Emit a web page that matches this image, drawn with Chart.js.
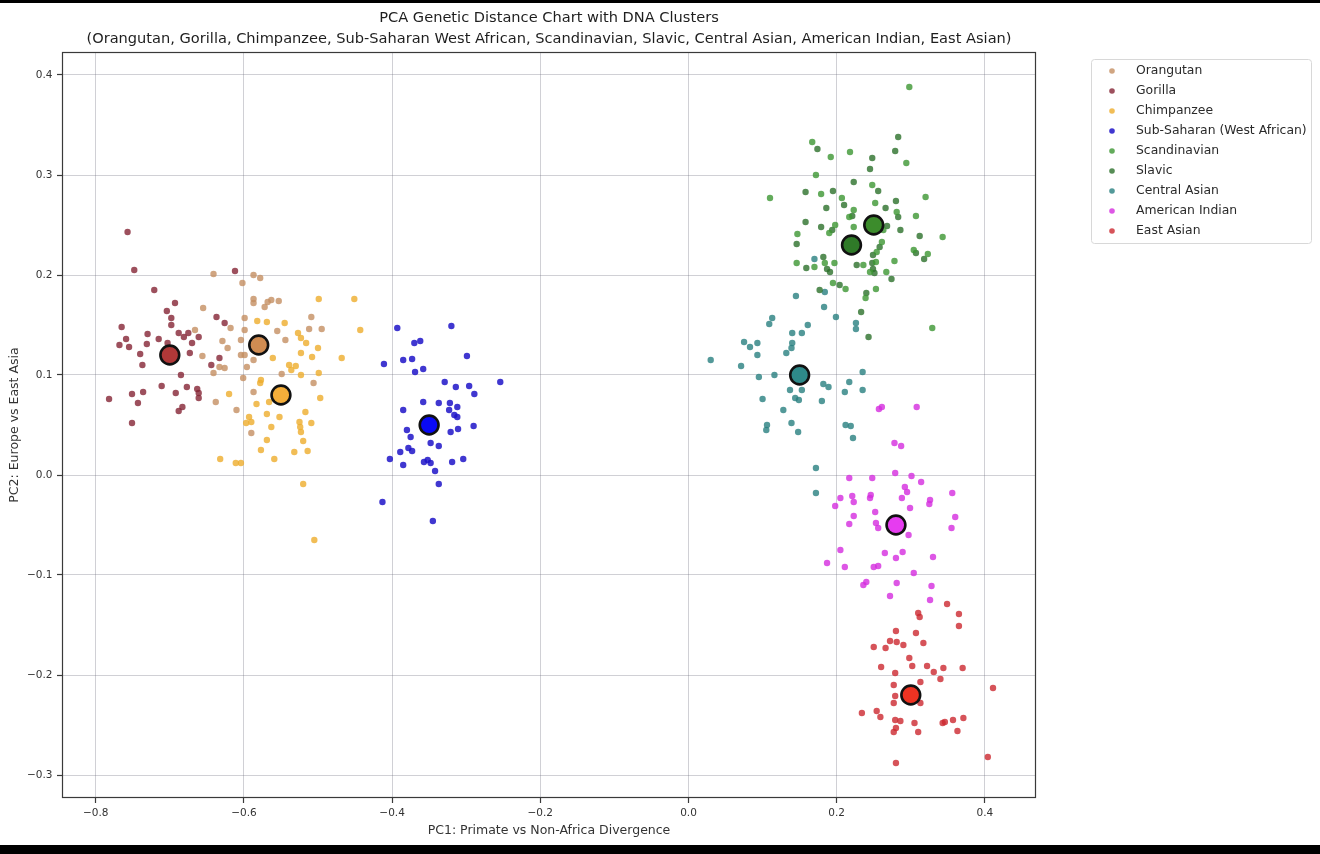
<!DOCTYPE html>
<html>
<head>
<meta charset="utf-8">
<script src="https://cdn.jsdelivr.net/npm/chart.js@4.4.0/dist/chart.umd.min.js"></script>
<style>
html,body{margin:0;padding:0;background:#fff;overflow:hidden}
#wrap{position:relative;width:1320px;height:854px}
canvas{display:block}
.bar{position:absolute;left:0;width:1320px;background:#000}
</style>
</head>
<body>
<div id="wrap">
<canvas id="c" width="1320" height="854"></canvas>
<div class="bar" style="top:0;height:3px"></div>
<div class="bar" style="top:845px;height:9px"></div>
</div>
<script>
// ---------- data ----------
const seriesNames = ['Orangutan','Gorilla','Chimpanzee','Sub-Saharan (West African)','Scandinavian','Slavic','Central Asian','American Indian','East Asian'];

const orangutan = [[-0.641,0.201],[-0.587,0.200],[-0.578,0.197],[-0.602,0.192],[-0.587,0.176],[-0.587,0.172],[-0.572,0.168],[-0.568,0.173],[-0.563,0.175],[-0.553,0.174],[-0.655,0.167],[-0.599,0.157],[-0.618,0.147],[-0.599,0.145],[-0.666,0.145],[-0.629,0.134],[-0.604,0.135],[-0.622,0.127],[-0.656,0.119],[-0.604,0.120],[-0.599,0.120],[-0.633,0.108],[-0.626,0.107],[-0.641,0.102],[-0.596,0.108],[-0.587,0.115],[-0.601,0.097],[-0.638,0.073],[-0.610,0.065],[-0.590,0.042],[-0.587,0.083],[-0.509,0.158],[-0.512,0.146],[-0.495,0.146],[-0.549,0.101],[-0.506,0.092],[-0.555,0.144],[-0.544,0.135]];

const gorilla = [[-0.757,0.243],[-0.748,0.205],[-0.721,0.185],[-0.693,0.172],[-0.704,0.164],[-0.698,0.157],[-0.698,0.150],[-0.765,0.148],[-0.730,0.141],[-0.715,0.136],[-0.688,0.142],[-0.675,0.142],[-0.681,0.138],[-0.661,0.138],[-0.670,0.132],[-0.759,0.136],[-0.768,0.130],[-0.755,0.128],[-0.731,0.131],[-0.703,0.132],[-0.740,0.121],[-0.673,0.122],[-0.737,0.110],[-0.685,0.100],[-0.637,0.158],[-0.626,0.152],[-0.633,0.117],[-0.644,0.110],[-0.711,0.089],[-0.692,0.082],[-0.677,0.088],[-0.663,0.086],[-0.661,0.082],[-0.661,0.077],[-0.736,0.083],[-0.751,0.081],[-0.782,0.076],[-0.743,0.072],[-0.683,0.068],[-0.688,0.064],[-0.751,0.052],[-0.612,0.204]];

const chimpanzee = [[-0.499,0.176],[-0.451,0.176],[-0.443,0.145],[-0.468,0.117],[-0.582,0.154],[-0.569,0.153],[-0.545,0.152],[-0.527,0.142],[-0.523,0.137],[-0.516,0.132],[-0.500,0.127],[-0.523,0.122],[-0.508,0.118],[-0.539,0.110],[-0.530,0.109],[-0.536,0.105],[-0.523,0.100],[-0.499,0.102],[-0.561,0.117],[-0.577,0.095],[-0.578,0.092],[-0.497,0.077],[-0.620,0.081],[-0.583,0.071],[-0.566,0.073],[-0.569,0.061],[-0.552,0.058],[-0.517,0.063],[-0.593,0.058],[-0.590,0.053],[-0.597,0.052],[-0.525,0.053],[-0.524,0.048],[-0.523,0.043],[-0.509,0.052],[-0.563,0.048],[-0.569,0.035],[-0.520,0.034],[-0.577,0.025],[-0.559,0.016],[-0.532,0.023],[-0.514,0.024],[-0.632,0.016],[-0.611,0.012],[-0.604,0.012],[-0.520,-0.009],[-0.505,-0.065]];

const subSaharan = [[-0.393,0.147],[-0.320,0.149],[-0.370,0.132],[-0.362,0.134],[-0.299,0.119],[-0.411,0.111],[-0.385,0.115],[-0.373,0.116],[-0.369,0.103],[-0.358,0.106],[-0.254,0.093],[-0.329,0.093],[-0.314,0.088],[-0.296,0.089],[-0.289,0.081],[-0.358,0.073],[-0.337,0.072],[-0.322,0.072],[-0.312,0.068],[-0.323,0.065],[-0.316,0.060],[-0.312,0.058],[-0.385,0.065],[-0.290,0.049],[-0.311,0.046],[-0.321,0.043],[-0.380,0.045],[-0.375,0.038],[-0.348,0.032],[-0.337,0.029],[-0.378,0.027],[-0.373,0.024],[-0.389,0.023],[-0.403,0.016],[-0.385,0.010],[-0.357,0.013],[-0.352,0.015],[-0.348,0.012],[-0.319,0.013],[-0.304,0.016],[-0.342,0.004],[-0.337,-0.009],[-0.413,-0.027],[-0.345,-0.046]];

const scandinavian = [[0.298,0.388],[0.167,0.333],[0.218,0.323],[0.192,0.318],[0.294,0.312],[0.172,0.300],[0.248,0.290],[0.110,0.277],[0.179,0.281],[0.207,0.277],[0.252,0.272],[0.320,0.278],[0.223,0.265],[0.217,0.258],[0.281,0.263],[0.307,0.259],[0.198,0.250],[0.190,0.242],[0.223,0.248],[0.263,0.245],[0.343,0.238],[0.147,0.241],[0.261,0.233],[0.304,0.225],[0.323,0.221],[0.254,0.223],[0.278,0.214],[0.184,0.212],[0.197,0.212],[0.146,0.212],[0.170,0.208],[0.236,0.210],[0.253,0.213],[0.245,0.203],[0.267,0.203],[0.195,0.192],[0.212,0.186],[0.253,0.186],[0.239,0.177],[0.329,0.147]];

const slavic = [[0.283,0.338],[0.174,0.326],[0.279,0.324],[0.248,0.317],[0.245,0.306],[0.223,0.293],[0.256,0.284],[0.158,0.283],[0.195,0.284],[0.210,0.270],[0.280,0.274],[0.186,0.267],[0.221,0.259],[0.266,0.267],[0.283,0.258],[0.158,0.253],[0.194,0.245],[0.179,0.248],[0.268,0.249],[0.286,0.245],[0.312,0.239],[0.146,0.231],[0.258,0.228],[0.307,0.222],[0.318,0.216],[0.249,0.220],[0.182,0.218],[0.187,0.206],[0.191,0.203],[0.159,0.207],[0.227,0.210],[0.248,0.212],[0.249,0.206],[0.251,0.202],[0.274,0.196],[0.204,0.190],[0.177,0.185],[0.240,0.182],[0.233,0.163],[0.243,0.138]];

const centralAsian = [[0.145,0.179],[0.183,0.168],[0.199,0.158],[0.113,0.157],[0.109,0.151],[0.161,0.150],[0.140,0.142],[0.153,0.142],[0.075,0.133],[0.083,0.128],[0.093,0.132],[0.140,0.132],[0.139,0.127],[0.132,0.122],[0.093,0.120],[0.030,0.115],[0.071,0.109],[0.095,0.098],[0.116,0.100],[0.182,0.091],[0.189,0.088],[0.137,0.085],[0.153,0.085],[0.217,0.093],[0.235,0.103],[0.211,0.083],[0.235,0.085],[0.100,0.076],[0.144,0.077],[0.149,0.075],[0.180,0.074],[0.128,0.065],[0.106,0.050],[0.105,0.045],[0.139,0.052],[0.148,0.043],[0.212,0.050],[0.219,0.049],[0.222,0.037],[0.172,0.007],[0.172,-0.018],[0.226,0.152],[0.226,0.146],[0.170,0.216],[0.184,0.183]];

const americanIndian = [[0.257,0.066],[0.261,0.068],[0.308,0.068],[0.278,0.032],[0.287,0.029],[0.279,0.002],[0.301,-0.001],[0.217,-0.003],[0.248,-0.003],[0.314,-0.007],[0.292,-0.012],[0.295,-0.017],[0.288,-0.023],[0.356,-0.018],[0.205,-0.023],[0.221,-0.021],[0.223,-0.027],[0.246,-0.020],[0.245,-0.023],[0.198,-0.031],[0.326,-0.025],[0.325,-0.029],[0.299,-0.033],[0.252,-0.037],[0.223,-0.041],[0.217,-0.049],[0.253,-0.048],[0.256,-0.053],[0.360,-0.042],[0.355,-0.053],[0.297,-0.060],[0.205,-0.075],[0.265,-0.078],[0.289,-0.077],[0.280,-0.083],[0.330,-0.082],[0.187,-0.088],[0.211,-0.092],[0.250,-0.092],[0.256,-0.091],[0.304,-0.098],[0.236,-0.110],[0.240,-0.107],[0.281,-0.108],[0.272,-0.121],[0.328,-0.111],[0.326,-0.125]];

const eastAsian = [[0.349,-0.129],[0.310,-0.138],[0.312,-0.142],[0.365,-0.139],[0.365,-0.151],[0.280,-0.156],[0.307,-0.158],[0.272,-0.166],[0.281,-0.167],[0.290,-0.170],[0.317,-0.168],[0.250,-0.172],[0.266,-0.173],[0.298,-0.183],[0.302,-0.191],[0.260,-0.192],[0.322,-0.191],[0.344,-0.193],[0.370,-0.193],[0.331,-0.197],[0.279,-0.198],[0.340,-0.204],[0.313,-0.207],[0.277,-0.210],[0.411,-0.213],[0.279,-0.221],[0.277,-0.228],[0.313,-0.228],[0.234,-0.238],[0.254,-0.236],[0.259,-0.242],[0.279,-0.245],[0.286,-0.246],[0.280,-0.253],[0.277,-0.257],[0.305,-0.248],[0.310,-0.257],[0.343,-0.248],[0.346,-0.247],[0.357,-0.245],[0.371,-0.243],[0.363,-0.256],[0.280,-0.288],[0.404,-0.282]];

// cluster centroids (same order as seriesNames)
const centroids = [[-0.58,0.13],[-0.70,0.12],[-0.55,0.08],[-0.35,0.05],[0.25,0.25],[0.22,0.23],[0.15,0.10],[0.28,-0.05],[0.30,-0.22]];

const xTickValues = [-0.8,-0.6,-0.4,-0.2,0.0,0.2,0.4];
const xTickLabels = ['\u22120.8','\u22120.6','\u22120.4','\u22120.2','0.0','0.2','0.4'];
const yTickValues = [-0.3,-0.2,-0.1,0.0,0.1,0.2,0.3,0.4];
const yTickLabels = ['\u22120.3','\u22120.2','\u22120.1','0.0','0.1','0.2','0.3','0.4'];

const titleLines = ['PCA Genetic Distance Chart with DNA Clusters','(Orangutan, Gorilla, Chimpanzee, Sub-Saharan West African, Scandinavian, Slavic, Central Asian, American Indian, East Asian)'];
const xTitle = 'PC1: Primate vs Non-Africa Divergence';
const yTitle = 'PC2: Europe vs East Asia';

// ---------- styles ----------
const pointColors = ['rgba(196,142,98,0.8)','rgba(132,36,52,0.8)','rgba(238,172,44,0.8)','rgba(30,20,200,0.85)','rgba(60,150,50,0.8)','rgba(44,112,42,0.8)','rgba(40,128,128,0.8)','rgba(212,44,222,0.8)','rgba(204,40,48,0.8)'];
const centroidColors = ['#d08c52','#b03838','#f5ae3a','#0a0af5','#3c8c2c','#2f7a28','#2e8a8a','#e63cf0','#ee3322'];
const FONT = "'DejaVu Sans', sans-serif";
const X_MIN = -0.8455, X_MAX = 0.469, Y_MIN = -0.323, Y_MAX = 0.423;

const clusters = [orangutan, gorilla, chimpanzee, subSaharan, scandinavian, slavic, centralAsian, americanIndian, eastAsian];
const toXY = arr => arr.map(p => ({x: p[0], y: p[1]}));

const datasets = [];
clusters.forEach((c, i) => {
  datasets.push({
    label: seriesNames[i], data: toXY(c),
    backgroundColor: pointColors[i], borderWidth: 0,
    pointRadius: 3.2, pointHoverRadius: 3.2, order: 2
  });
});
centroids.forEach((c, i) => {
  datasets.push({
    label: seriesNames[i] + ' centroid', data: toXY([c]),
    backgroundColor: centroidColors[i], borderColor: '#111', borderWidth: 2.6,
    pointRadius: 9.4, pointHoverRadius: 9.4, order: 1
  });
});

// frame + custom legend
const framePlugin = {
  id: 'frame',
  afterDatasetsDraw(chart) {
    const {ctx, chartArea: a} = chart;
    ctx.save();
    ctx.strokeStyle = '#3a3a3a';
    ctx.lineWidth = 1.2;
    ctx.strokeRect(Math.round(a.left) + 0.5, Math.round(a.top) + 0.5, Math.round(a.right - a.left) - 1, Math.round(a.bottom - a.top) - 1);
    ctx.restore();
  }
};
const legendPlugin = {
  id: 'customLegend',
  afterDraw(chart) {
    const ctx = chart.ctx;
    const bx = 1091.5, by = 59.5, bw = 220, bh = 184, r = 3;
    ctx.save();
    ctx.beginPath();
    ctx.moveTo(bx + r, by);
    ctx.lineTo(bx + bw - r, by); ctx.quadraticCurveTo(bx + bw, by, bx + bw, by + r);
    ctx.lineTo(bx + bw, by + bh - r); ctx.quadraticCurveTo(bx + bw, by + bh, bx + bw - r, by + bh);
    ctx.lineTo(bx + r, by + bh); ctx.quadraticCurveTo(bx, by + bh, bx, by + bh - r);
    ctx.lineTo(bx, by + r); ctx.quadraticCurveTo(bx, by, bx + r, by);
    ctx.closePath();
    ctx.fillStyle = 'rgba(255,255,255,0.9)';
    ctx.fill();
    ctx.strokeStyle = '#d8d8d8';
    ctx.lineWidth = 1;
    ctx.stroke();
    ctx.font = '12.4px ' + FONT;
    ctx.textBaseline = 'middle';
    ctx.textAlign = 'left';
    seriesNames.forEach((name, i) => {
      const y = 71 + i * 20;
      ctx.beginPath();
      ctx.arc(1112, y, 2.8, 0, Math.PI * 2);
      ctx.fillStyle = pointColors[i];
      ctx.fill();
      ctx.fillStyle = '#2a2a2a';
      ctx.fillText(name, 1136, y);
    });
    ctx.restore();
  }
};

Chart.defaults.font.family = FONT;
new Chart(document.getElementById('c'), {
  type: 'scatter',
  data: { datasets },
  options: {
    responsive: false,
    animation: false,
    events: [],
    layout: { padding: { left: 0, right: 284, top: 0, bottom: 0 } },
    plugins: {
      legend: { display: false },
      tooltip: { enabled: false },
      title: {
        display: true, text: titleLines, fullSize: false,
        color: '#1e1e1e',
        font: { family: FONT, size: 14.6, weight: 'normal', lineHeight: '21px' },
        padding: { top: 7.5, bottom: 2.5 }
      }
    },
    scales: {
      x: {
        type: 'linear', position: 'bottom', min: X_MIN, max: X_MAX,
        afterBuildTicks: s => { s.ticks = xTickValues.map(v => ({value: v})); },
        afterFit: s => { s.height = 56; },
        ticks: { autoSkip: false, maxRotation: 0, padding: 3.7, color: '#333', font: { size: 10.5 },
                 callback: (v, i) => xTickLabels[i] },
        grid: { color: 'rgba(110,110,125,0.32)', lineWidth: 1, tickLength: 5, tickColor: '#3a3a3a', tickWidth: 1.2 },
        border: { display: false },
        title: { display: true, text: xTitle, color: '#333', font: { size: 12.5 }, padding: { top: 0, bottom: 15.5 } }
      },
      y: {
        type: 'linear', position: 'left', min: Y_MIN, max: Y_MAX,
        afterBuildTicks: s => { s.ticks = yTickValues.map(v => ({value: v})); },
        afterFit: s => { s.width = 62; },
        ticks: { autoSkip: false, padding: 4.5, color: '#333', font: { size: 10.5 },
                 callback: (v, i) => yTickLabels[i] },
        grid: { color: 'rgba(110,110,125,0.32)', lineWidth: 1, tickLength: 5, tickColor: '#3a3a3a', tickWidth: 1.2 },
        border: { display: false },
        title: { display: true, text: yTitle, color: '#333', font: { size: 12.5 }, padding: { top: 7.5, bottom: 0 } }
      }
    }
  },
  plugins: [framePlugin, legendPlugin]
});
</script>
</body>
</html>
